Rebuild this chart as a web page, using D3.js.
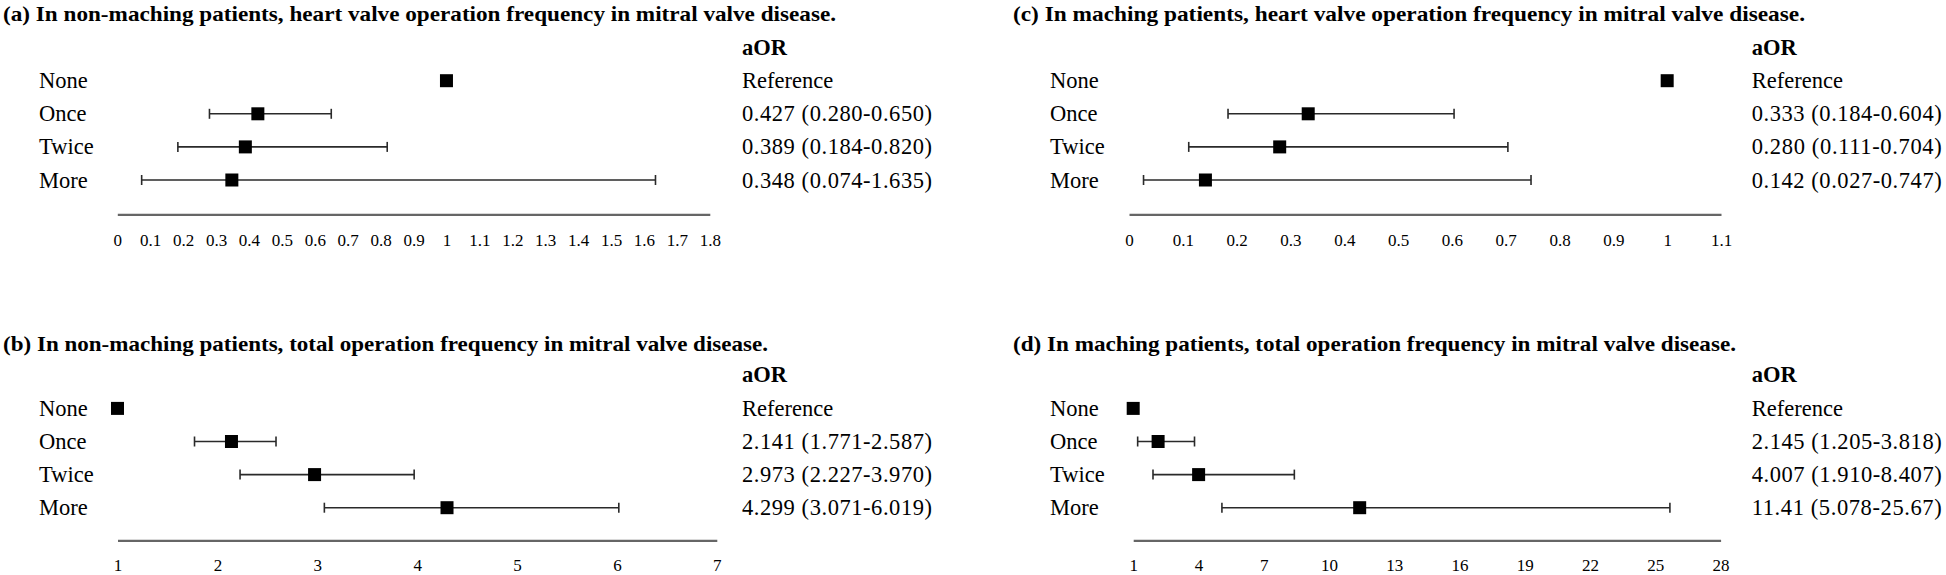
<!DOCTYPE html>
<html>
<head>
<meta charset="utf-8">
<script src="https://cdn.jsdelivr.net/npm/d3@7"></script>
<style>
  html, body { margin: 0; padding: 0; background: #fff; }
  svg { display: block; }
  text { font-family: "Liberation Serif", "Times New Roman", serif; fill: #000; }
</style>
</head>
<body>
<svg id="chart" width="1946" height="575"></svg>
<script>
// ---------- DATA ----------
const categories = ["None", "Once", "Twice", "More"];

const titleA = "(a) In non-maching patients, heart valve operation frequency in mitral valve disease.";
const titleB = "(b) In non-maching patients, total operation frequency in mitral valve disease.";
const titleC = "(c) In maching patients, heart valve operation frequency in mitral valve disease.";
const titleD = "(d) In maching patients, total operation frequency in mitral valve disease.";

const orA = [1, 0.427, 0.389, 0.348];
const loA = [null, 0.280, 0.184, 0.074];
const hiA = [null, 0.650, 0.820, 1.635];
const txtA = ["Reference", "0.427 (0.280-0.650)", "0.389 (0.184-0.820)", "0.348 (0.074-1.635)"];
const ticksA = [0, 0.1, 0.2, 0.3, 0.4, 0.5, 0.6, 0.7, 0.8, 0.9, 1, 1.1, 1.2, 1.3, 1.4, 1.5, 1.6, 1.7, 1.8];

const orB = [1, 2.141, 2.973, 4.299];
const loB = [null, 1.771, 2.227, 3.071];
const hiB = [null, 2.587, 3.970, 6.019];
const txtB = ["Reference", "2.141 (1.771-2.587)", "2.973 (2.227-3.970)", "4.299 (3.071-6.019)"];
const ticksB = [1, 2, 3, 4, 5, 6, 7];

const orC = [1, 0.333, 0.280, 0.142];
const loC = [null, 0.184, 0.111, 0.027];
const hiC = [null, 0.604, 0.704, 0.747];
const txtC = ["Reference", "0.333 (0.184-0.604)", "0.280 (0.111-0.704)", "0.142 (0.027-0.747)"];
const ticksC = [0, 0.1, 0.2, 0.3, 0.4, 0.5, 0.6, 0.7, 0.8, 0.9, 1, 1.1];

const orD = [1, 2.145, 4.007, 11.41];
const loD = [null, 1.205, 1.910, 5.078];
const hiD = [null, 3.818, 8.407, 25.67];
const txtD = ["Reference", "2.145 (1.205-3.818)", "4.007 (1.910-8.407)", "11.41 (5.078-25.67)"];
const ticksD = [1, 4, 7, 10, 13, 16, 19, 22, 25, 28];

// ---------- LAYOUT ----------
const panels = [
  { title: titleA, titleLen: 833, or: orA, lo: loA, hi: hiA, txt: txtA, ticks: ticksA,
    domain: [0, 1.8], range: [117.3, 709.8], left: 3, labelX: 39, textX: 742,
    titleY: 14, row0: 80.7, axisY: 214.3, tickPad: 19.5 },
  { title: titleB, titleLen: 765, or: orB, lo: loB, hi: hiB, txt: txtB, ticks: ticksB,
    domain: [1, 7], range: [117.5, 716.8], left: 3, labelX: 39, textX: 742,
    titleY: 344, row0: 408.4, axisY: 540.4, tickPad: 19 },
  { title: titleC, titleLen: 792, or: orC, lo: loC, hi: hiC, txt: txtC, ticks: ticksC,
    domain: [0, 1.1], range: [1129, 1721], left: 1013, labelX: 1050, textX: 1751.7,
    titleY: 14, row0: 80.7, axisY: 214.3, tickPad: 19.5 },
  { title: titleD, titleLen: 723, or: orD, lo: loD, hi: hiD, txt: txtD, ticks: ticksD,
    domain: [1, 28], range: [1133.2, 1720.6], left: 1013, labelX: 1050, textX: 1751.7,
    titleY: 344, row0: 408.4, axisY: 540.4, tickPad: 19 }
];

const rowStep = 33.1;
const sq = 13;
const capH = 10;
const svg = d3.select("#chart");

panels.forEach(p => {
  const g = svg.append("g");
  const x = d3.scaleLinear().domain(p.domain).range(p.range);
  const y = d3.scalePoint().domain(categories)
    .range([p.row0, p.row0 + rowStep * (categories.length - 1)]);

  // title
  g.append("text")
    .attr("x", p.left).attr("y", p.titleY)
    .attr("dominant-baseline", "central")
    .attr("font-weight", "bold").attr("font-size", 21)
    .attr("textLength", p.titleLen).attr("lengthAdjust", "spacingAndGlyphs")
    .text(p.title);

  // aOR header
  g.append("text")
    .attr("x", p.textX).attr("y", p.row0 - rowStep - 0.5)
    .attr("dominant-baseline", "central")
    .attr("font-weight", "bold").attr("font-size", 22.5)
    .text("aOR");

  // row labels
  g.selectAll(".lab").data(categories).join("text")
    .attr("x", p.labelX).attr("y", d => y(d))
    .attr("dominant-baseline", "central")
    .attr("font-size", 22.5)
    .text(d => d);

  // right texts
  g.selectAll(".val").data(p.txt).join("text")
    .attr("x", p.textX).attr("y", (d, i) => y(categories[i]))
    .attr("dominant-baseline", "central")
    .attr("font-size", 22.5)
    .each(function(d, i) {
      if (i > 0) d3.select(this).attr("textLength", 190).attr("lengthAdjust", "spacing");
    })
    .text(d => d);

  const rows = categories.map((c, i) => ({ c, or: p.or[i], lo: p.lo[i], hi: p.hi[i] }));
  const ci = rows.filter(r => r.lo !== null);

  // whiskers
  g.selectAll(".ci").data(ci).join("line")
    .attr("x1", d => x(d.lo)).attr("x2", d => x(d.hi))
    .attr("y1", d => y(d.c)).attr("y2", d => y(d.c))
    .attr("stroke", "#2a2a2a").attr("stroke-width", 1.6);
  g.selectAll(".capL").data(ci).join("line")
    .attr("x1", d => x(d.lo)).attr("x2", d => x(d.lo))
    .attr("y1", d => y(d.c) - capH / 2).attr("y2", d => y(d.c) + capH / 2)
    .attr("stroke", "#2a2a2a").attr("stroke-width", 1.6);
  g.selectAll(".capR").data(ci).join("line")
    .attr("x1", d => x(d.hi)).attr("x2", d => x(d.hi))
    .attr("y1", d => y(d.c) - capH / 2).attr("y2", d => y(d.c) + capH / 2)
    .attr("stroke", "#2a2a2a").attr("stroke-width", 1.6);

  // markers
  g.selectAll(".pt").data(rows).join("rect")
    .attr("x", d => x(d.or) - sq / 2).attr("y", d => y(d.c) - sq / 2)
    .attr("width", sq).attr("height", sq)
    .attr("fill", "#000");

  // axis
  const axis = d3.axisBottom(x).tickValues(p.ticks)
    .tickSize(0).tickSizeOuter(0).tickPadding(p.tickPad)
    .tickFormat(d3.format("~g"));
  const ag = g.append("g").attr("transform", `translate(0,${p.axisY})`).call(axis);
  ag.select(".domain").attr("stroke", "#666").attr("stroke-width", 2.2);
  ag.selectAll("text")
    .attr("font-family", "Liberation Serif, Times New Roman, serif")
    .attr("font-size", 17).attr("fill", "#000");
});
</script>
</body>
</html>
